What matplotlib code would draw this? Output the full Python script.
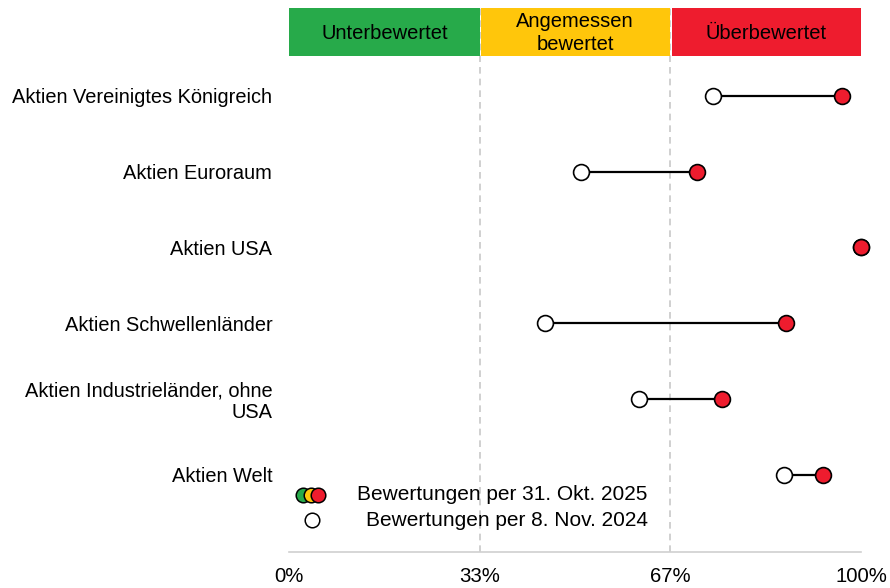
import matplotlib.pyplot as plt
import numpy as np

plt.rcParams['font.family'] = ['Liberation Sans', 'DejaVu Sans']

categories = ['Aktien Vereinigtes Königreich', 'Aktien Euroraum', 'Aktien USA',
              'Aktien Schwellenländer', 'Aktien Industrieländer, ohne\nUSA', 'Aktien Welt']
val_2025 = [0.967, 0.713, 1.0, 0.869, 0.757, 0.934]
val_2024 = [0.741, 0.510, 1.0, 0.448, 0.612, 0.865]

zones = ['Unterbewertet', 'Angemessen\nbewertet', 'Überbewertet']
zone_edges = [0, 1/3, 2/3, 1]
zone_colors = ['#27AA4A', '#FFC60B', '#EE1C2E']

tick_pos = [0, 1/3, 2/3, 1]
tick_labels = ['0%', '33%', '67%', '100%']

legend_labels = ['Bewertungen per 31. Okt. 2025', 'Bewertungen per 8. Nov. 2024']

fig = plt.figure(figsize=(8.9, 5.88), dpi=100)
ax = fig.add_axes([289/890, 36/588, 572/890, 544/588])

y = np.arange(len(categories))
ax.set_xlim(0, 1)
ax.set_ylim(6.02, -1.16)

# dashed zone borders
for xv in [1/3, 2/3]:
    ax.axvline(xv, color='#c8c8c8', ls=(0, (4, 3)), lw=1.2, zorder=0)

# header bands
trans = ax.get_xaxis_transform()
for i, name in enumerate(zones):
    x0, x1 = zone_edges[i], zone_edges[i + 1]
    gap = 0.0025 if i > 0 else 0
    ax.add_patch(plt.Rectangle((x0 + gap, 0.912), x1 - x0 - gap, 0.088,
                               transform=trans, color=zone_colors[i], clip_on=False, zorder=1, lw=0))
    ax.text((x0 + x1) / 2, 0.954, name, transform=trans, ha='center', va='center',
            fontsize=14.5, linespacing=1.3, zorder=2)

# dumbbells
for yi, a, b in zip(y, val_2024, val_2025):
    ax.plot([a, b], [yi, yi], color='black', lw=1.6, zorder=2, clip_on=False)

ax.scatter(val_2024, y, s=130, color='white', edgecolor='black', linewidth=1.2, zorder=3, clip_on=False)
ax.scatter(val_2025, y, s=130, color='#EE1C2E', edgecolor='black', linewidth=1.2, zorder=4, clip_on=False)

# legend (drawn by hand)
for k, c in enumerate(zone_colors):
    ax.scatter(0.025 + k * 0.013, 0.105, s=110, color=c, edgecolor='black', linewidth=1.1,
               transform=ax.transAxes, zorder=5 + k, clip_on=False)
ax.scatter(0.04, 0.058, s=110, color='white', edgecolor='black', linewidth=1.1,
           transform=ax.transAxes, zorder=5, clip_on=False)
ax.text(0.627, 0.105, legend_labels[0], transform=ax.transAxes, ha='right', va='center', fontsize=15)
ax.text(0.627, 0.058, legend_labels[1], transform=ax.transAxes, ha='right', va='center', fontsize=15)

ax.set_yticks(y)
ax.set_yticklabels(categories, fontsize=14.4, linespacing=1.15)
ax.set_xticks(tick_pos)
ax.set_xticklabels(tick_labels, fontsize=14.7)
ax.tick_params(axis='y', length=0, pad=12)
ax.tick_params(axis='x', length=0, pad=11)
for t in ax.get_yticklabels():
    t.set_multialignment('right')

for s in ['top', 'right', 'left']:
    ax.spines[s].set_visible(False)
ax.spines['bottom'].set_color('#d0d0d0')
ax.spines['bottom'].set_linewidth(1.2)

fig.savefig('out.png', dpi=100)
